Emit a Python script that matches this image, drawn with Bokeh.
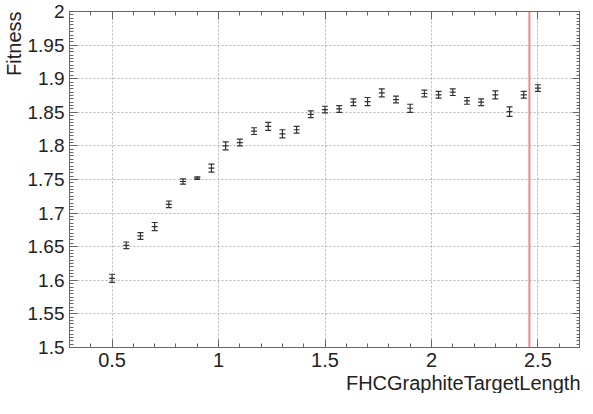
from bokeh.plotting import figure
from bokeh.models import (Whisker, Span, Title, LinearAxis, FixedTicker,
                          ColumnDataSource, TeeHead, Range1d)
from bokeh.embed import file_html
from bokeh.resources import INLINE

# ---- data ----
target_length = [0.5, 0.5667, 0.6333, 0.7, 0.7667, 0.8333, 0.9, 0.9667, 1.0333, 1.1,
                 1.1667, 1.2333, 1.3, 1.3667, 1.4333, 1.5, 1.5667, 1.6333, 1.7, 1.7667,
                 1.8333, 1.9, 1.9667, 2.0333, 2.1, 2.1667, 2.2333, 2.3, 2.3667, 2.4333, 2.5]
fitness = [1.603, 1.652, 1.666, 1.680, 1.713, 1.747, 1.752, 1.767, 1.800, 1.805,
           1.822, 1.829, 1.818, 1.824, 1.847, 1.854, 1.855, 1.865, 1.866, 1.879,
           1.869, 1.856, 1.878, 1.876, 1.880, 1.867, 1.865, 1.876, 1.851, 1.876, 1.886]
fitness_err = [0.006, 0.005, 0.005, 0.006, 0.005, 0.004, 0.002, 0.006, 0.006, 0.005,
               0.005, 0.006, 0.006, 0.005, 0.005, 0.005, 0.005, 0.005, 0.006, 0.006,
               0.005, 0.006, 0.005, 0.005, 0.005, 0.005, 0.005, 0.006, 0.007, 0.005, 0.005]
nominal_length = 2.46

x_ticks = [0.5, 1.0, 1.5, 2.0, 2.5]
x_tick_labels = ["0.5", "1", "1.5", "2", "2.5"]
y_ticks = [1.5, 1.55, 1.6, 1.65, 1.7, 1.75, 1.8, 1.85, 1.9, 1.95, 2.0]
y_tick_labels = ["1.5", "1.55", "1.6", "1.65", "1.7", "1.75", "1.8", "1.85", "1.9", "1.95", "2"]
x_title = "FHCGraphiteTargetLength"
y_title = "Fitness"

x_minor = [round(0.3 + 0.1 * i, 2) for i in range(25)]
y_minor = [round(1.5 + 0.005 * i, 3) for i in range(101)]

FONT = "Liberation Sans"
AXC = "#666666"
TXT = "#222222"

p = figure(frame_width=511, frame_height=336, output_backend="svg", toolbar_location=None,
           x_range=Range1d(0.3, 2.7), y_range=Range1d(1.5, 2.0),
           min_border_left=69, min_border_right=0, min_border_top=11, min_border_bottom=0)
p.background_fill_color = "white"
p.border_fill_color = "white"
p.outline_line_color = AXC

src = ColumnDataSource(dict(x=target_length, y=fitness,
                            lo=[f - e for f, e in zip(fitness, fitness_err)],
                            hi=[f + e for f, e in zip(fitness, fitness_err)]))


def style_axis(ax, ticks, minor, labels, show_labels):
    ax.ticker = FixedTicker(ticks=ticks, minor_ticks=minor)
    ax.major_label_overrides = {t: l for t, l in zip(ticks, labels)}
    ax.axis_line_color = AXC
    ax.major_tick_line_color = AXC
    ax.minor_tick_line_color = AXC
    ax.major_tick_in = 8
    ax.major_tick_out = 0
    ax.minor_tick_in = 4
    ax.minor_tick_out = 0
    ax.major_label_text_font = FONT
    ax.major_label_text_color = TXT
    ax.axis_label_standoff = 0
    if show_labels:
        ax.major_label_text_font_size = "19px"
        ax.major_label_standoff = 4
    else:
        ax.major_label_text_font_size = "0px"
        ax.major_label_standoff = 0
        ax.major_label_text_alpha = 0


style_axis(p.xaxis[0], x_ticks, x_minor, x_tick_labels, True)
style_axis(p.yaxis[0], y_ticks, y_minor, y_tick_labels, True)
p.xaxis[0].major_label_text_font_size = "20px"
p.xaxis[0].major_label_standoff = 5
p.yaxis[0].major_label_standoff = 5

top = LinearAxis()
style_axis(top, x_ticks, x_minor, x_tick_labels, False)
p.add_layout(top, "above")
right = LinearAxis()
style_axis(right, y_ticks, y_minor, y_tick_labels, False)
p.add_layout(right, "right")

for g in (p.xgrid[0], p.ygrid[0]):
    g.grid_line_color = "#b4b4b4"
    g.grid_line_dash = "2 2"
    g.grid_line_width = 1
p.xgrid[0].ticker = FixedTicker(ticks=x_ticks)
p.ygrid[0].ticker = FixedTicker(ticks=y_ticks)

# nominal line
p.add_layout(Span(location=nominal_length, dimension="height",
                  line_color="#f07a7a", line_width=2, line_alpha=0.9))

# error bars
p.add_layout(Whisker(source=src, base="x", lower="lo", upper="hi",
                     line_color="#333333", line_width=1.2,
                     upper_head=TeeHead(size=6, line_color="#333333", line_width=1.2),
                     lower_head=TeeHead(size=6, line_color="#333333", line_width=1.2)))
p.scatter("x", "y", source=src, marker="dash", size=6, line_color="#333333",
          line_width=1.2)

# titles (ROOT style: y title at top end, x title at right end)
p.add_layout(Title(text=y_title, align="right", text_font=FONT, text_font_size="20px",
                   text_font_style="normal", text_color=TXT, standoff=0), "left")
p.add_layout(Title(text=x_title, align="right", text_font=FONT, text_font_size="20px",
                   text_font_style="normal", text_color=TXT, standoff=0), "below")

open("out.html", "w").write(file_html(p, INLINE))
